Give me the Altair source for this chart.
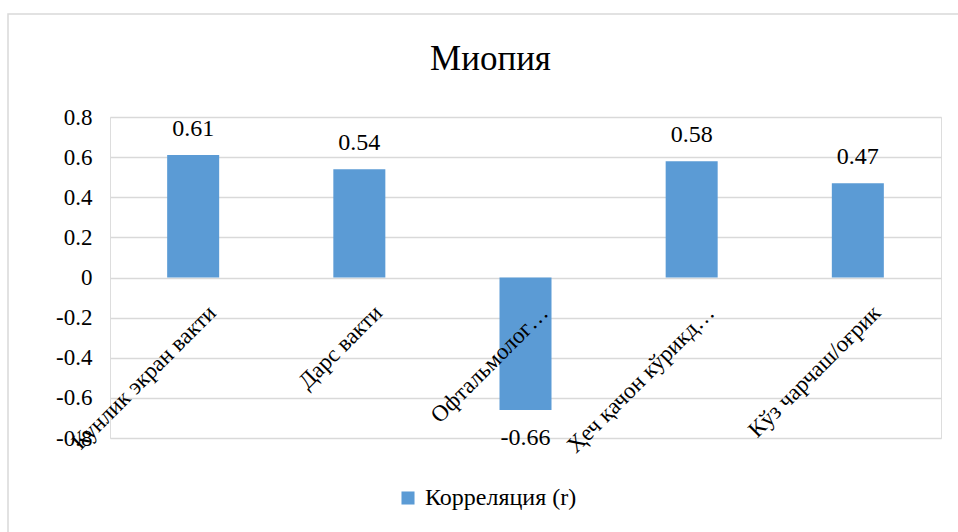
import altair as alt
import pandas as pd

# Correlation of each factor with myopia
factors = [
    "Кунлик экран вакти",
    "Дарс вакти",
    "Офтальмолог…",
    "Ҳеч қачон кўрикд…",
    "Кўз чарчаш/оғрик",
]
correlation = [0.61, 0.54, -0.66, 0.58, 0.47]
y_ticks = [-0.8, -0.6, -0.4, -0.2, 0, 0.2, 0.4, 0.6, 0.8]
series_name = "Корреляция (r)"
chart_title = "Миопия"

BAR_BLUE = "#5B9BD5"
GRID = "#d9d9d9"
FONT = "Times New Roman, Liberation Serif, DejaVu Serif, serif"

df = pd.DataFrame({
    "factor": factors,
    "r": correlation,
    "label": [f"{v:.2f}" for v in correlation],
    "series": [series_name] * len(factors),
})

W, H = 831, 321

x_enc = alt.X(
    "factor:N",
    sort=factors,
    scale=alt.Scale(paddingInner=0.687, paddingOuter=0.344),
    axis=None,
)
y_scale = alt.Scale(domain=[-0.8, 0.8], nice=False, zero=True)

base = alt.Chart(df)

bars = base.mark_bar(color=BAR_BLUE).encode(
    x=x_enc,
    y=alt.Y(
        "r:Q",
        scale=y_scale,
        title=None,
        axis=alt.Axis(
            values=y_ticks,
            labelExpr="datum.value == 0 ? '0' : toString(round(datum.value * 10) / 10)",
            labelFont=FONT,
            labelFontSize=23,
            labelColor="#000000",
            labelPadding=18,
            ticks=False,
            domain=False,
            grid=True,
            gridColor=GRID,
            gridWidth=1.5,
        ),
    ),
    y2=alt.datum(0),
    color=alt.Color(
        "series:N",
        scale=alt.Scale(range=[BAR_BLUE]),
        legend=alt.Legend(
            title=None,
            orient="none",
            legendX=286,
            legendY=369,
            symbolType="square",
            symbolSize=170,
            symbolStrokeWidth=0,
            labelFont=FONT,
            labelFontSize=24,
            labelColor="#000000",
            labelOffset=5,
        ),
    ),
)

pos_labels = base.transform_filter("datum.r >= 0").mark_text(
    font=FONT, fontSize=24, color="#000000", baseline="bottom", dy=-14
).encode(x=x_enc, y=alt.Y("r:Q", scale=y_scale), text="label:N")

neg_labels = base.transform_filter("datum.r < 0").mark_text(
    font=FONT, fontSize=24, color="#000000", baseline="top", dy=16
).encode(x=x_enc, y=alt.Y("r:Q", scale=y_scale), text="label:N")

# Category names sit just under the zero line, rotated 45 degrees
cat_labels = base.mark_text(
    font=FONT, fontSize=23, color="#000000",
    angle=315, align="right", baseline="top", dx=-9, dy=25,
).encode(x=x_enc, y=alt.datum(0), text="factor:N")

# Light frame around the chart
frame = alt.Chart(pd.DataFrame({"k": [0]})).mark_rect(
    fill=None, stroke=GRID, strokeWidth=1.5
).encode(
    x=alt.value(-102), x2=alt.value(870), y=alt.value(-103), y2=alt.value(440)
)

# Chart heading, centred over the frame
heading = alt.Chart(pd.DataFrame({"t": [chart_title]})).mark_text(
    font=FONT, fontSize=35, color="#000000", align="center", baseline="middle"
).encode(x=alt.value(W / 2 - 35), y=alt.value(-58), text="t:N")

chart = alt.layer(frame, bars, pos_labels, neg_labels, cat_labels, heading).properties(
    width=W,
    height=H,
    autosize=alt.AutoSizeParams(type="none"),
    padding={"left": 110, "top": 117, "right": 17, "bottom": 94},
).configure_view(stroke=None).configure(background="#ffffff")

chart.save("out.html", embed_options={"renderer": "svg", "actions": False})
